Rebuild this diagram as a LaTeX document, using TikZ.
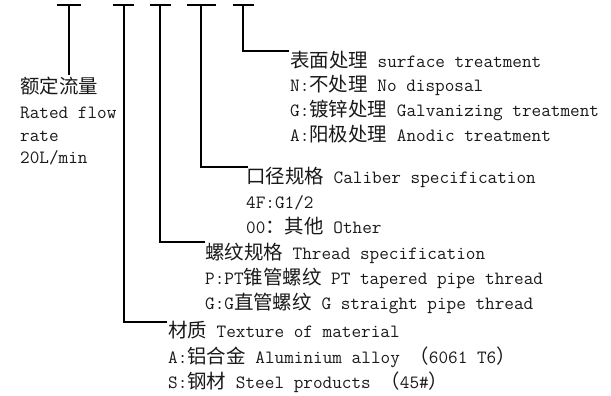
\documentclass[tikz,border=0pt]{standalone}
\usepackage{fontspec}
\newfontfamily\cjk{Noto Sans CJK SC}[Scale=1.04]
\newcommand\zh[1]{{\cjk #1}}
\begin{document}
\begin{tikzpicture}[x=1pt,y=-1pt,
  conn/.style={line width=1.6pt,black},
  lbl/.style={anchor=base west,inner sep=0pt,text=black!90,
    font=\fontsize{18.7}{22}\selectfont\ttfamily}]
\useasboundingbox (0,0) rectangle (611,396);
% top bars
\coordinate (a1) at (57,5);  \coordinate (b1) at (81,5);  \coordinate (t1) at (69,5);
\coordinate (a2) at (113,5); \coordinate (b2) at (134,5); \coordinate (t2) at (124,5);
\coordinate (a3) at (150,5); \coordinate (b3) at (171,5); \coordinate (t3) at (160,5);
\coordinate (a4) at (187,5); \coordinate (b4) at (216,5); \coordinate (t4) at (201,5);
\coordinate (a5) at (233,5); \coordinate (b5) at (254,5); \coordinate (t5) at (243,5);
\foreach \i in {1,...,5} {\draw[conn] (a\i) -- (b\i);}
% elbow ends
\coordinate (e1) at (69,75);
\coordinate (e2) at (167,322);
\coordinate (e3) at (205,242);
\coordinate (e4) at (248,167);
\coordinate (e5) at (289,51);
\draw[conn] (t1) -- (e1);
\draw[conn] (t2) |- (e2);
\draw[conn] (t3) |- (e3);
\draw[conn] (t4) |- (e4);
\draw[conn] (t5) |- (e5);
% left label
\node[lbl] (l1) at (20,94) {\zh{额定流量}};
\node[lbl] (l2) at (20,118) {Rated flow};
\node[lbl] (l3) at (20,141) {rate};
\node[lbl] (l4) at (20,164) {20L/min};
% surface treatment
\node[lbl] (s1) at (290,67) {\zh{表面处理} surface treatment};
\node[lbl] (s2) at (290,92) {N:\zh{不处理} No disposal};
\node[lbl] (s3) at (290,117) {G:\zh{镀锌处理} Galvanizing treatment};
\node[lbl] (s4) at (290,142) {A:\zh{阳极处理} Anodic treatment};
% caliber
\node[lbl] (c1) at (246,183) {\zh{口径规格} Caliber specification};
\node[lbl] (c2) at (246,208) {4F:G1/2};
\node[lbl] (c3) at (246,233) {00\zh{：}\zh{其他} Other};
% thread
\node[lbl] (h1) at (205,259) {\zh{螺纹规格} Thread specification};
\node[lbl] (h2) at (205,284) {P:PT\zh{锥管螺纹} PT tapered pipe thread};
\node[lbl] (h3) at (205,309) {G:G\zh{直管螺纹} G straight pipe thread};
% material
\node[lbl] (m1) at (168,337) {\zh{材质} Texture of material};
\node[lbl] (m2) at (168,363) {A:\zh{铝合金} Aluminium alloy \zh{（}6061 T6\zh{）}};
\node[lbl] (m3) at (168,388) {S:\zh{钢材} Steel products \zh{（}45\#\zh{）}};
\end{tikzpicture}
\end{document}
